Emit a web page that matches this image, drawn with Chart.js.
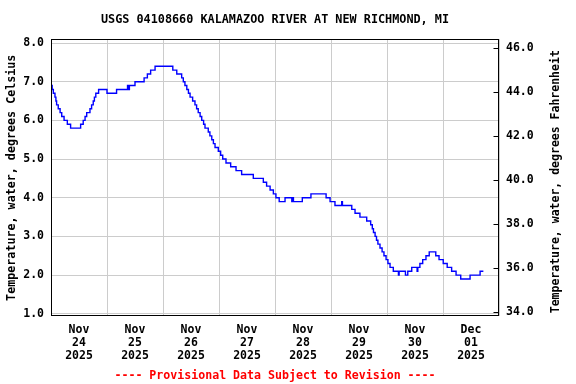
<!DOCTYPE html>
<html>
<head>
<meta charset="utf-8">
<script src="https://cdn.jsdelivr.net/npm/chart.js@4/dist/chart.umd.min.js"></script>
<style>
  body { margin: 0; background: #fff; }
  #wrap { width: 576px; height: 384px; }
</style>
</head>
<body>
<div id="wrap"><canvas id="chart" width="576" height="384"></canvas></div>
<script>
// hours since Nov 24 2025 00:00, and the reading that starts at that hour (deg C)
const hours = [
  0, 0.5, 1.0, 1.7, 2.1, 2.4, 3.1, 3.9, 4.6, 5.6, 7.0, 8.4, 12.7, 13.8, 14.6, 15.3,
  16.7, 17.4, 18.1, 18.6, 19.2, 20.4, 24.0, 28.1, 32.8, 33.1, 33.6, 36.0, 39.9, 41.3,
  42.7, 44.6, 52.2, 53.9, 56.0, 56.7, 57.4, 58.2, 58.9, 59.6, 60.7, 61.7, 62.4, 63.1,
  63.9, 64.6, 65.4, 66.0, 67.4, 68.1, 68.9, 69.6, 70.3, 71.7, 72.7, 73.6, 75.0, 77.0,
  79.3, 81.7, 86.7, 91.0, 92.4, 93.9, 95.3, 96.4, 97.8, 100.3, 103.2, 103.6, 103.9,
  107.7, 111.4, 117.9, 119.6, 121.7, 124.6, 124.9, 128.9, 130.3, 132.4, 135.3, 137.0,
  137.7, 138.2, 138.9, 139.5, 140.1, 141.0, 141.9, 142.7, 143.6, 144.4, 145.3, 146.7,
  148.9, 149.2, 151.9, 152.9, 154.6, 156.9, 157.2, 158.1, 159.3, 160.7, 162.1, 164.9,
  166.3, 168.1, 169.8, 171.7, 173.6, 175.6, 179.6, 183.9, 185.3
];
const tempC = [
  6.9, 6.8, 6.7, 6.6, 6.5, 6.4, 6.3, 6.2, 6.1, 6.0, 5.9, 5.8, 5.9, 6.0, 6.1, 6.2,
  6.3, 6.4, 6.5, 6.6, 6.7, 6.8, 6.7, 6.8, 6.9, 6.8, 6.9, 7.0, 7.1, 7.2,
  7.3, 7.4, 7.3, 7.2, 7.1, 7.0, 6.9, 6.8, 6.7, 6.6, 6.5, 6.4, 6.3, 6.2,
  6.1, 6.0, 5.9, 5.8, 5.7, 5.6, 5.5, 5.4, 5.3, 5.2, 5.1, 5.0, 4.9, 4.8,
  4.7, 4.6, 4.5, 4.4, 4.3, 4.2, 4.1, 4.0, 3.9, 4.0, 3.9, 4.0, 3.9,
  4.0, 4.1, 4.0, 3.9, 3.8, 3.9, 3.8, 3.7, 3.6, 3.5, 3.4, 3.3,
  3.2, 3.1, 3.0, 2.9, 2.8, 2.7, 2.6, 2.5, 2.4, 2.3, 2.2, 2.1,
  2.0, 2.1, 2.0, 2.1, 2.2, 2.1, 2.2, 2.3, 2.4, 2.5, 2.6, 2.5,
  2.4, 2.3, 2.2, 2.1, 2.0, 1.9, 2.0, 2.1, 2.1
];

const dayBounds = [0, 24, 48, 72, 96, 120, 144, 168, 192];
const dayMids = [12, 36, 60, 84, 108, 132, 156, 180];
const dayLabels = [
  ['Nov', '24', '2025'], ['Nov', '25', '2025'], ['Nov', '26', '2025'], ['Nov', '27', '2025'],
  ['Nov', '28', '2025'], ['Nov', '29', '2025'], ['Nov', '30', '2025'], ['Dec', '01', '2025']
];
const celsiusTicks = [1, 2, 3, 4, 5, 6, 7, 8];
const fahrenheitTicks = [34, 36, 38, 40, 42, 44, 46];

const MONO = '"DejaVu Sans Mono", monospace';

// black box round the plot, the short inward ticks of the right axis,
// and the right-hand axis title read bottom to top like the left one
const framePlugin = {
  id: 'frame',
  afterDraw(chart) {
    const { ctx, chartArea: a } = chart;
    const right = chart.scales.yF;
    const l = Math.round(a.left) + 0.5, t = Math.round(a.top) + 0.5;
    const r = Math.round(a.right) - 0.5, b = Math.round(a.bottom) - 0.5;
    ctx.save();
    ctx.strokeStyle = '#000';
    ctx.lineWidth = 1;
    ctx.strokeRect(l, t, r - l, b - t);
    ctx.beginPath();
    right.ticks.forEach(tk => {
      const y = Math.round(right.getPixelForValue(tk.value)) + 0.5;
      ctx.moveTo(r - 5, y);
      ctx.lineTo(r, y);
    });
    ctx.stroke();

    ctx.translate(556, (a.top + a.bottom) / 2 + 4);
    ctx.rotate(-Math.PI / 2);
    ctx.textAlign = 'center';
    ctx.textBaseline = 'middle';
    ctx.fillStyle = '#000';
    ctx.font = 'bold 11.5px ' + MONO;
    ctx.fillText('Temperature, water, degrees Fahrenheit', 0, 0);
    ctx.restore();
  }
};

new Chart(document.getElementById('chart'), {
  type: 'line',
  data: {
    datasets: [{
      data: hours.map((h, i) => ({ x: h, y: tempC[i] })),
      xAxisID: 'x',
      yAxisID: 'y',
      borderColor: '#0000ff',
      borderWidth: 1.4,
      pointRadius: 0,
      stepped: 'before',
      fill: false
    }]
  },
  options: {
    responsive: false,
    animation: false,
    layout: { padding: 0 },
    plugins: {
      legend: { display: false },
      tooltip: { enabled: false },
      title: {
        display: true,
        text: 'USGS 04108660 KALAMAZOO RIVER AT NEW RICHMOND, MI',
        fullSize: false,
        color: '#000',
        font: { family: MONO, size: 11.8, weight: 'bold', lineHeight: 1.2 },
        padding: { top: 13, bottom: 11.84 }
      },
      subtitle: {
        display: true,
        position: 'bottom',
        text: '---- Provisional Data Subject to Revision ----',
        fullSize: false,
        color: '#ff0000',
        font: { family: MONO, size: 11.6, weight: 'bold', lineHeight: 1.2 },
        padding: { top: 5, bottom: 1 }
      }
    },
    scales: {
      x: {
        type: 'linear',
        position: 'bottom',
        min: 0,
        max: 192,
        afterBuildTicks: s => { s.ticks = dayBounds.map(v => ({ value: v })); },
        afterFit: s => { s.height = 0; },
        grid: { color: '#cccccc', drawTicks: false },
        border: { display: false },
        ticks: { display: false }
      },
      xl: {
        type: 'linear',
        position: 'bottom',
        min: 0,
        max: 192,
        afterBuildTicks: s => { s.ticks = dayMids.map(v => ({ value: v })); },
        afterFit: s => { s.height = 47.6; },
        grid: { display: false, drawTicks: false },
        border: { display: false },
        ticks: {
          autoSkip: false,
          maxRotation: 0,
          padding: 7.5,
          color: '#000',
          font: { family: MONO, size: 11.5, weight: 'bold', lineHeight: '13px' },
          callback: (v) => dayLabels[dayMids.indexOf(v)]
        }
      },
      y: {
        type: 'linear',
        position: 'left',
        min: 0.93,
        max: 8.104,
        afterBuildTicks: s => { s.ticks = celsiusTicks.map(v => ({ value: v })); },
        afterFit: s => { s.width = 51; },
        grid: { color: '#cccccc', drawTicks: false },
        border: { display: false },
        ticks: {
          padding: 7,
          color: '#000',
          font: { family: MONO, size: 11.5, weight: 'bold' },
          callback: v => v.toFixed(1)
        },
        title: {
          display: true,
          text: 'Temperature, water, degrees Celsius',
          color: '#000',
          font: { family: MONO, size: 11.7, weight: 'bold', lineHeight: 1.2 },
          padding: { top: 5, bottom: 0 }
        }
      },
      yF: {
        type: 'linear',
        position: 'right',
        min: 33.8,
        max: 46.4,
        afterBuildTicks: s => { s.ticks = fahrenheitTicks.map(v => ({ value: v })); },
        afterFit: s => { s.width = 77; },
        grid: { display: false, drawTicks: false },
        border: { display: false },
        ticks: {
          padding: 7,
          color: '#000',
          font: { family: MONO, size: 11.5, weight: 'bold' },
          callback: v => v.toFixed(1)
        }
      }
    }
  },
  plugins: [framePlugin]
});
</script>
</body>
</html>
